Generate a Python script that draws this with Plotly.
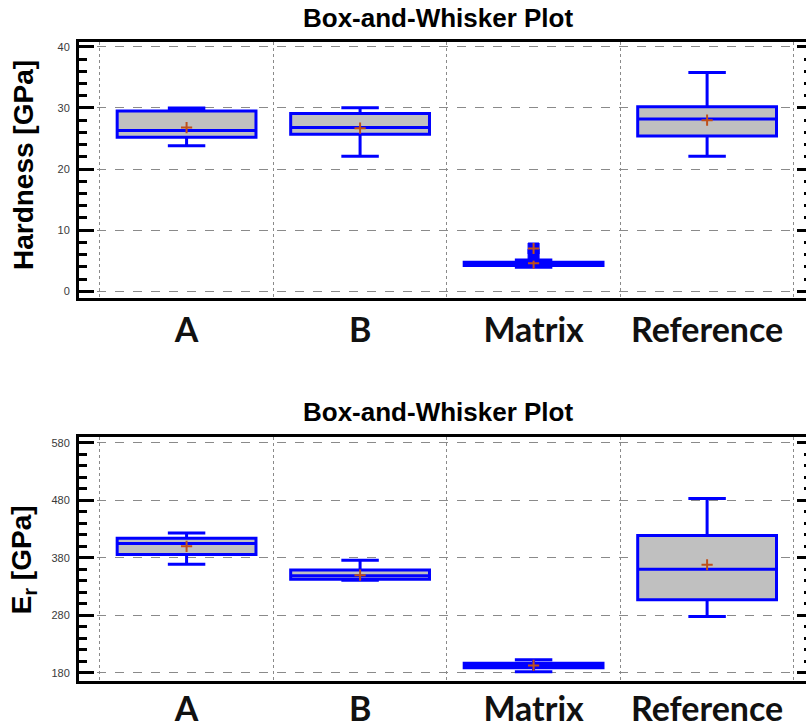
import plotly.graph_objects as go

# Sample groups
categories = ["A", "B", "Matrix", "Reference"]
positions = [0, 1, 2, 3]

# Hardness [GPa] summary statistics
hard_lower = [23.8, 22.1, 3.95, 22.1]
hard_q1 = [25.2, 25.7, 4.2, 25.4]
hard_median = [26.3, 26.8, 4.45, 28.2]
hard_q3 = [29.5, 29.1, 4.75, 30.2]
hard_upper = [30.0, 30.05, 5.1, 35.8]
hard_mean = [26.8, 26.7, 4.6, 28.0]
# Matrix points lying outside the whiskers
hard_out_pos = [2, 2]
hard_out_val = [6.0, 7.0]
hard_far_pos = [2]
hard_far_val = [7.0]

# Reduced modulus Er [GPa] summary statistics
er_lower = [369, 341, 182, 278]
er_q1 = [386, 343, 189, 307]
er_median = [405, 349, 193, 360]
er_q3 = [414, 359, 197, 419]
er_upper = [423, 376, 203, 483]
er_mean = [400, 350, 193, 368]

hard_ticks = [0, 10, 20, 30, 40]
er_ticks = [180, 280, 380, 480, 580]

BLUE = "#0000FF"
BOX_FILL = "#C0C0C0"
MEAN_RED = "#C0501A"
GRID = "#8a8a8a"

fig = go.Figure()


def add_panel(xa, ya, ya_mirror, lower, q1, med, q3, upper, mean):
    fig.add_trace(go.Box(
        x=positions, q1=q1, median=med, q3=q3,
        lowerfence=lower, upperfence=upper,
        width=0.8, whiskerwidth=0.27,
        line=dict(color=BLUE, width=3), fillcolor=BOX_FILL,
        xaxis=xa, yaxis=ya, showlegend=False, hoverinfo="skip",
    ))
    fig.add_trace(go.Scatter(
        x=positions, y=mean, mode="markers",
        marker=dict(symbol="cross-thin", size=8,
                    line=dict(color=MEAN_RED, width=2)),
        xaxis=xa, yaxis=ya, showlegend=False, hoverinfo="skip",
    ))
    # invisible trace so the mirrored right-hand tick axis is drawn
    fig.add_trace(go.Scatter(
        x=positions, y=mean, mode="markers", marker=dict(opacity=0),
        xaxis=xa, yaxis=ya_mirror, showlegend=False, hoverinfo="skip",
    ))


add_panel("x", "y", "y3", hard_lower, hard_q1, hard_median, hard_q3,
          hard_upper, hard_mean)
add_panel("x2", "y2", "y4", er_lower, er_q1, er_median, er_q3,
          er_upper, er_mean)

# outside points of the Matrix hardness group
fig.add_trace(go.Scatter(
    x=hard_out_pos, y=hard_out_val, mode="markers",
    marker=dict(symbol="square", size=11, color=BLUE,
                line=dict(color=BLUE, width=1)),
    xaxis="x", yaxis="y", showlegend=False, hoverinfo="skip",
))
fig.add_trace(go.Scatter(
    x=hard_far_pos, y=hard_far_val, mode="markers",
    marker=dict(symbol="cross-thin", size=8,
                line=dict(color=MEAN_RED, width=2)),
    xaxis="x", yaxis="y", showlegend=False, hoverinfo="skip",
))

cat_font = dict(family="Lato, Open Sans, sans-serif", size=34,
                color="#111111", weight="bold")
tick_font = dict(family="Liberation Sans, Arial, sans-serif", size=11,
                 color="#3a3a3a")


def xaxis_common(standoff):
    return dict(
        range=[-0.62, 3.57], tickmode="array", tickvals=positions,
        ticktext=categories, showgrid=False, ticks="", zeroline=False,
        showline=True, linewidth=3, linecolor="black", mirror=True,
        tickfont=cat_font, ticklabelstandoff=standoff, automargin=False,
        minor=dict(tick0=-0.5, dtick=1, showgrid=True, gridcolor=GRID,
                   griddash="dot", gridwidth=1, ticks=""),
    )


def yaxis_common(rng, ticks, minor_step):
    return dict(
        range=rng, tickmode="array", tickvals=ticks, automargin=False,
        showgrid=True, gridcolor=GRID, griddash="dash", gridwidth=1,
        zeroline=False, showline=True, linewidth=3, linecolor="black",
        ticks="inside", ticklen=15, tickwidth=3, tickcolor="black",
        tickfont=tick_font, ticklabelstandoff=4,
        minor=dict(dtick=minor_step, ticks="inside", ticklen=8,
                   tickwidth=3, tickcolor="black", showgrid=False),
    )


def mirror_axis(overlay, rng, ticks, minor_step):
    return dict(
        overlaying=overlay, side="right", range=rng, automargin=False,
        tickmode="array", tickvals=ticks, showticklabels=False,
        showgrid=False, zeroline=False, showline=False,
        ticks="inside", ticklen=9, tickwidth=3, tickcolor="black",
        minor=dict(dtick=minor_step, ticks="inside", ticklen=2,
                   tickwidth=3, tickcolor="black", showgrid=False),
    )


hard_range = [-1.1, 40.8]
er_range = [166, 590]

fig.update_layout(
    width=806, height=727,
    margin=dict(l=79, r=0, t=42, b=46, autoexpand=False),
    paper_bgcolor="white", plot_bgcolor="white",
    xaxis=dict(xaxis_common(0), anchor="y", domain=[0, 1]),
    xaxis2=dict(xaxis_common(-4), anchor="y2", domain=[0, 1]),
    yaxis=dict(yaxis_common(hard_range, hard_ticks, 2), anchor="x",
               domain=[0.5994, 1.0]),
    yaxis2=dict(yaxis_common(er_range, er_ticks, 20), anchor="x2",
                domain=[0.0, 0.3818]),
    yaxis3=dict(mirror_axis("y", hard_range, hard_ticks, 2), anchor="x"),
    yaxis4=dict(mirror_axis("y2", er_range, er_ticks, 20), anchor="x2"),
)

title_font = dict(family="Liberation Sans, Arial, sans-serif", size=26,
                  color="black", weight="bold")
axis_title_font = dict(family="Liberation Sans, Arial, sans-serif", size=28,
                       color="black", weight="bold")

fig.add_annotation(text="Box-and-Whisker Plot", xref="paper", yref="paper",
                   x=0.494, y=1.0376, xanchor="center", yanchor="middle",
                   showarrow=False, font=title_font)
fig.add_annotation(text="Box-and-Whisker Plot", xref="paper", yref="paper",
                   x=0.494, y=0.421, xanchor="center", yanchor="middle",
                   showarrow=False, font=title_font)
fig.add_annotation(text="Hardness [GPa]", xref="paper", yref="paper",
                   x=-0.077, y=0.8075, xanchor="center", yanchor="middle",
                   textangle=-90, showarrow=False, font=axis_title_font)
fig.add_annotation(text="E<sub>r</sub> [GPa]", xref="paper", yref="paper",
                   x=-0.077, y=0.189, xanchor="center", yanchor="middle",
                   textangle=-90, showarrow=False, font=axis_title_font)

fig.write_html("out.html")
